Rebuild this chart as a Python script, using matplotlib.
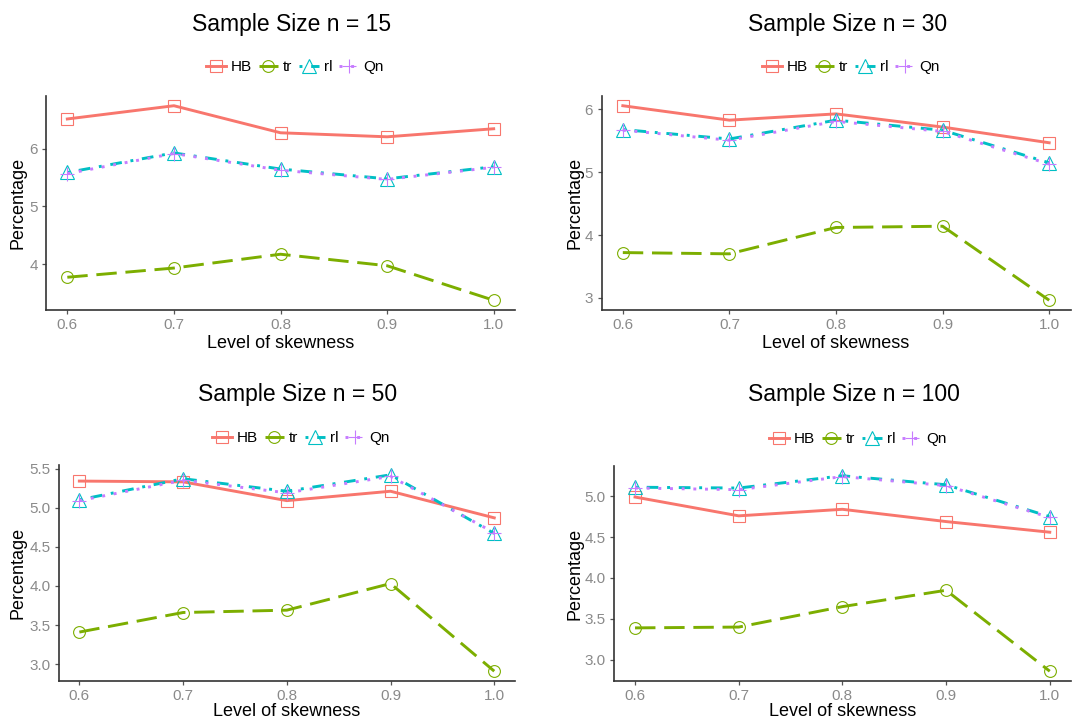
import matplotlib
matplotlib.use("Agg")
import matplotlib.pyplot as plt
from matplotlib.ticker import MultipleLocator, FormatStrFormatter

plt.rcParams["font.family"] = ["Liberation Sans", "DejaVu Sans"]

skew = [0.6, 0.7, 0.8, 0.9, 1.0]
methods = ["HB", "tr", "rl", "Qn"]
sizes = [15, 30, 50, 100]

# percentages per method, one list per sample size
hb_15 = [6.52, 6.75, 6.28, 6.21, 6.35]
tr_15 = [3.77, 3.93, 4.17, 3.97, 3.37]
rl_15 = [5.59, 5.93, 5.65, 5.48, 5.69]
qn_15 = [5.57, 5.92, 5.63, 5.47, 5.68]

hb_30 = [6.06, 5.83, 5.93, 5.72, 5.47]
tr_30 = [3.72, 3.70, 4.12, 4.14, 2.96]
rl_30 = [5.68, 5.53, 5.83, 5.67, 5.15]
qn_30 = [5.67, 5.51, 5.81, 5.65, 5.13]

hb_50 = [5.34, 5.33, 5.09, 5.21, 4.87]
tr_50 = [3.41, 3.66, 3.69, 4.03, 2.91]
rl_50 = [5.10, 5.37, 5.21, 5.42, 4.67]
qn_50 = [5.09, 5.35, 5.19, 5.40, 4.68]

hb_100 = [4.99, 4.76, 4.84, 4.69, 4.56]
tr_100 = [3.39, 3.40, 3.65, 3.85, 2.86]
rl_100 = [5.11, 5.10, 5.25, 5.14, 4.75]
qn_100 = [5.10, 5.08, 5.24, 5.13, 4.74]

series = {
    15: [hb_15, tr_15, rl_15, qn_15],
    30: [hb_30, tr_30, rl_30, qn_30],
    50: [hb_50, tr_50, rl_50, qn_50],
    100: [hb_100, tr_100, rl_100, qn_100],
}

# ggplot-like styling for the four methods
colors = ["#F8766D", "#7CAE00", "#00BFC4", "#C77CFF"]
markers = ["s", "o", "^", "+"]
msizes = [9, 8.5, 10, 10]
dashes = [None, (7, 3), (1, 3, 4, 3), (1, 3)]

W, H = 1086, 724
# panel boxes in pixels: left, right, top, bottom
boxes = {
    15: (46, 515, 96, 310),
    30: (601.5, 1070.5, 96, 310),
    50: (58.6, 515, 465, 681),
    100: (614.3, 1070.5, 466, 681),
}
title_pos = {15: (292, 24), 30: (848, 24), 50: (298, 395), 100: (854, 395)}
legend_pos = {15: (295, 67), 30: (851, 67), 50: (301, 438), 100: (858, 439)}
xlab_y = {15: 343, 30: 343, 50: 712, 100: 712}
ylab_x = {15: 18, 30: 575, 50: 18, 100: 575}
ystep = {15: 1.0, 30: 1.0, 50: 0.5, 100: 0.5}
yfmt = {15: "%d", 30: "%d", 50: "%.1f", 100: "%.1f"}

fig = plt.figure(figsize=(W / 100, H / 100), dpi=100)

for n in sizes:
    l, r, t, b = boxes[n]
    ax = fig.add_axes([l / W, 1 - b / H, (r - l) / W, (b - t) / H])
    handles = []
    for vals, name, c, m, ms, d in zip(series[n], methods, colors, markers,
                                       msizes, dashes):
        line, = ax.plot(skew, vals, color=c, lw=2.1, marker=m, ms=ms,
                        mfc="none", mec=c, mew=0.8, label=name)
        if d is not None:
            line.set_dashes(d)
        handles.append(line)

    ax.margins(x=0.05, y=0.05)
    ax.set_xticks(skew)
    ax.xaxis.set_major_formatter(FormatStrFormatter("%.1f"))
    ax.yaxis.set_major_locator(MultipleLocator(ystep[n]))
    ax.yaxis.set_major_formatter(FormatStrFormatter(yfmt[n]))

    for s in ["top", "right"]:
        ax.spines[s].set_visible(False)
    for s in ["left", "bottom"]:
        ax.spines[s].set_color("#333333")
        ax.spines[s].set_linewidth(1.2)
    ax.tick_params(length=3, width=0.9, color="#555555", labelcolor="#8a8a8a",
                   labelsize=11, pad=3)

    ax.set_xlabel("Level of skewness", fontsize=13)
    ax.xaxis.label.set_va("center")
    ax.xaxis.set_label_coords(0.5, -(xlab_y[n] - b) / (b - t))
    ax.set_ylabel("Percentage", fontsize=13)
    ax.yaxis.label.set_va("center")
    ax.yaxis.set_label_coords((ylab_x[n] - l) / (r - l), 0.5)

    tx, ty = title_pos[n]
    fig.text(tx / W, 1 - ty / H, f"Sample Size n = {n}", fontsize=16.5,
             ha="center", va="center")
    lx, ly = legend_pos[n]
    fig.legend(handles=handles, loc="center", ncol=4, frameon=False,
               bbox_to_anchor=(lx / W, 1 - ly / H), fontsize=11,
               handlelength=1.3, handletextpad=0.3, columnspacing=0.45,
               borderpad=0, borderaxespad=0)

fig.savefig("out.png", dpi=100)
